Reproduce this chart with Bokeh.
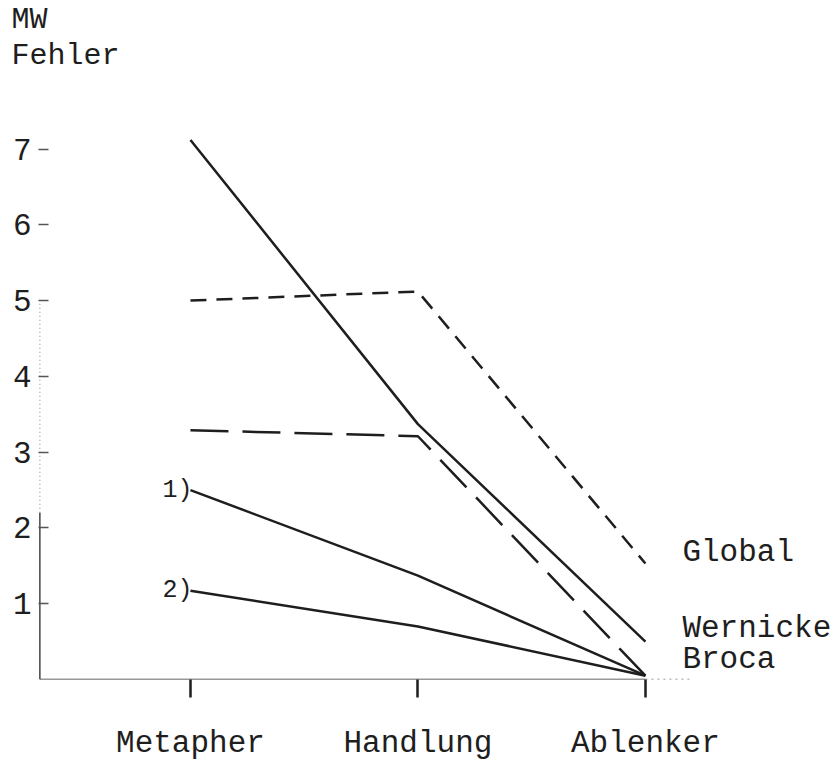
from bokeh.plotting import figure
from bokeh.models import Range1d, FixedTicker, Label, Title
from bokeh.embed import file_html
from bokeh.resources import INLINE

# ---- data ----
categories = ["Metapher", "Handlung", "Ablenker"]
x_pos = [0, 1, 2]
wernicke = [7.12, 3.37, 0.50]
global_ = [5.00, 5.12, 1.53]
broca = [3.29, 3.21, 0.05]
gruppe1 = [2.50, 1.37, 0.05]
gruppe2 = [1.17, 0.70, 0.05]
y_ticks = [1, 2, 3, 4, 5, 6, 7]
end_labels = ["Global", "Wernicke", "Broca"]
end_label_y = [1.67, 0.67, 0.27]
sub_labels = ["1)", "2)"]
y_title = ["MW", "Fehler"]

FONT = "Liberation Mono"
INK = "#1e1e1e"
X0 = -0.668

p = figure(width=836, height=763, output_backend="svg", toolbar_location=None,
           x_range=Range1d(X0, 2.84), y_range=Range1d(0, 8.01),
           min_border_left=38, min_border_right=0, min_border_top=0,
           min_border_bottom=0)
p.outline_line_color = None
p.grid.visible = False
p.title = None

# y title as two stacked titles (first added sits closest to the frame)
for t in reversed(y_title):
    p.add_layout(Title(text=t, align="left", offset=-27, text_font=FONT,
                       text_font_size="30px", text_font_style="normal",
                       text_color=INK, standoff=0), "above")

# x axis
xa = p.xaxis[0]
xa.ticker = FixedTicker(ticks=x_pos)
xa.major_label_overrides = {x: c for x, c in zip(x_pos, categories)}
xa.axis_line_color = None
xa.major_tick_in = 0
xa.major_tick_out = 18
xa.major_tick_line_width = 2.5
xa.major_tick_line_color = INK
xa.minor_tick_line_color = None
xa.major_label_standoff = 28
xa.major_label_text_font = FONT
xa.major_label_text_font_size = "31px"
xa.major_label_text_color = INK

# y axis
ya = p.yaxis[0]
ya.ticker = FixedTicker(ticks=y_ticks)
ya.axis_line_color = None
ya.major_tick_in = 10
ya.major_tick_out = 0
ya.major_tick_line_width = 1.5
ya.major_tick_line_color = "#555555"
ya.minor_tick_line_color = None
ya.major_label_standoff = 7
ya.major_label_text_font = FONT
ya.major_label_text_font_size = "31px"
ya.major_label_text_color = INK

# hand-drawn axis lines
xl = X0 + 0.006
p.line([xl, x_pos[-1]], [0, 0], line_color="#333333", line_width=1.6)
p.line([x_pos[-1], x_pos[-1] + 0.2], [0, 0], line_color="#777777",
       line_width=1.3, line_dash="2 4")
p.line([xl, xl], [0, 2.2], line_color="#444444", line_width=1.5)
p.line([xl, xl], [2.2, 5.0], line_color="#9a9a9a", line_width=1.2,
       line_dash="1 3")

# series
p.line(x_pos, wernicke, line_color=INK, line_width=2.5)
p.line(x_pos, global_, line_color=INK, line_width=2.5, line_dash="16 10")
p.line(x_pos, broca, line_color=INK, line_width=2.5, line_dash="38 14")
p.line(x_pos, gruppe1, line_color=INK, line_width=2.5)
p.line(x_pos, gruppe2, line_color=INK, line_width=2.5)

# end labels
for t, y in zip(end_labels, end_label_y):
    p.add_layout(Label(x=x_pos[-1], y=y, x_offset=37, text=t,
                       text_baseline="middle", text_font=FONT,
                       text_font_size="31px", text_color=INK))

# sub labels 1) 2)
for t, y in zip(sub_labels, [gruppe1[0], gruppe2[0]]):
    p.add_layout(Label(x=x_pos[0], y=y, x_offset=2, text=t,
                       text_align="right", text_baseline="middle",
                       text_font=FONT, text_font_size="25px", text_color=INK))

open("out.html", "w").write(file_html(p, INLINE))
